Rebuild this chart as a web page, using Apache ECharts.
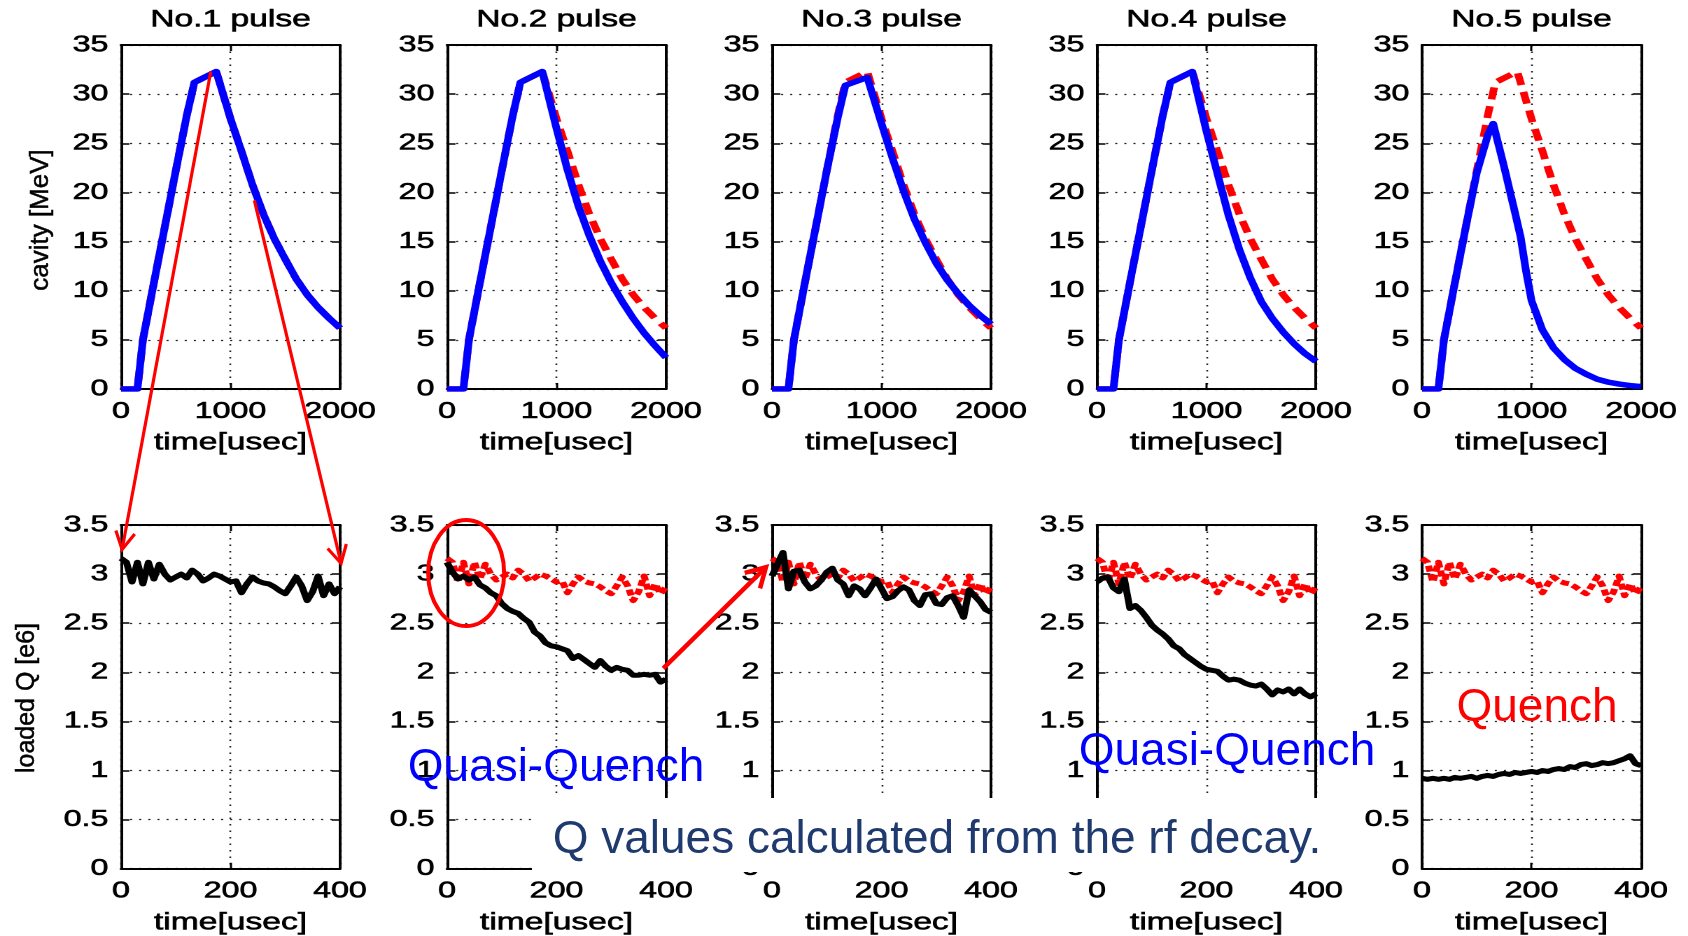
<!DOCTYPE html>
<html><head><meta charset="utf-8">
<script src="https://cdn.jsdelivr.net/npm/echarts@6/dist/echarts.min.js"></script>
<style>
html,body{margin:0;padding:0;background:#fff;overflow:hidden}
#wrap{position:relative;width:1688px;height:936px;overflow:hidden;background:#fff}
#main{position:absolute;left:0;top:0;width:1206px;height:936px;transform:scaleX(1.39967);transform-origin:0 0}
#over{position:absolute;left:0;top:0;width:1688px;height:936px;pointer-events:none}
</style></head><body>
<div id="wrap"><div id="main"></div><div id="over"></div></div>
<script>
// ---------------- data ----------------
const pulseTitles = ['No.1 pulse','No.2 pulse','No.3 pulse','No.4 pulse','No.5 pulse'];
// top row: cavity field [MeV] vs time [usec]
const tTop = [0,150,200,300,400,500,600,670,870,1000,1100,1200,1300,1400,1500,1600,1700,1800,1900,2000];
const refTop = [0,0,5.0,10.8,16.5,22.2,27.8,31.2,32.3,27.5,24.2,20.8,17.8,15.3,13.2,11.2,9.6,8.3,7.2,6.2];
const blueTop2 = [0,0,5.0,10.8,16.5,22.2,27.8,31.2,32.3,26.5,22.3,18.6,15.6,13.0,10.8,8.9,7.2,5.7,4.4,3.2];
const blueTop3 = [0,0,5.0,10.8,16.5,22.2,27.6,30.9,31.7,27.0,23.5,20.2,17.3,14.9,12.8,11.1,9.7,8.5,7.5,6.6];
const blueTop4 = [0,0,5.0,10.8,16.5,22.2,27.8,31.2,32.3,26.2,21.9,17.7,14.2,11.3,8.9,7.2,5.8,4.6,3.6,2.8];
const tTop5 = [0,150,200,300,400,500,600,650,750,850,900,950,1000,1100,1200,1300,1400,1500,1600,1700,1800,1900,2000];
const blueTop5 = [0,0,5.0,10.8,16.5,22.0,25.8,27.0,22.6,17.9,15.5,12.0,9.0,6.0,4.2,3.0,2.1,1.5,1.0,0.7,0.5,0.35,0.25];
// bottom row: loaded Q [e6] vs time [usec]
const tBot = [0,10,20,30,40,50,60,70,80,90,100,110,120,130,140,150,160,170,180,190,200,210,220,230,240,250,260,270,280,290,300,310,320,330,340,350,360,370,380,390,400];
const refBot = [3.16,3.12,2.92,3.12,2.90,3.12,2.95,3.10,3.00,2.94,2.97,3.00,2.96,3.04,3.00,2.93,2.96,3.00,2.98,2.95,2.92,2.93,2.81,2.90,2.97,2.93,2.91,2.90,2.87,2.83,2.80,2.88,2.97,2.88,2.73,2.82,2.98,2.78,2.90,2.80,2.87];
const qBot2 = [3.12,3.02,2.95,2.98,2.94,2.97,2.89,2.86,2.81,2.78,2.70,2.65,2.62,2.60,2.55,2.51,2.41,2.37,2.30,2.27,2.26,2.24,2.22,2.14,2.17,2.13,2.09,2.05,2.12,2.06,2.02,2.05,2.03,2.02,1.97,1.97,1.98,1.97,1.98,1.90,1.93];
const qBot3 = [2.98,3.10,3.22,2.85,3.03,3.04,2.92,2.85,2.88,2.94,3.02,3.06,2.94,2.90,2.78,2.88,2.85,2.78,2.86,2.95,2.85,2.75,2.77,2.83,2.87,2.84,2.73,2.68,2.79,2.80,2.70,2.69,2.76,2.78,2.68,2.56,2.84,2.78,2.72,2.64,2.61];
const qBot4 = [2.92,2.96,2.97,2.86,2.82,2.95,2.65,2.68,2.63,2.56,2.48,2.43,2.39,2.34,2.27,2.24,2.18,2.14,2.10,2.06,2.03,2.02,2.01,1.96,1.92,1.93,1.92,1.89,1.87,1.86,1.88,1.83,1.77,1.82,1.80,1.83,1.78,1.83,1.78,1.75,1.78];
const qBot5 = [0.92,0.91,0.92,0.91,0.92,0.91,0.93,0.92,0.93,0.94,0.92,0.94,0.95,0.94,0.96,0.97,0.96,0.98,0.97,0.98,0.99,0.98,1.00,0.99,1.01,1.02,1.01,1.04,1.03,1.06,1.07,1.05,1.06,1.08,1.07,1.08,1.10,1.12,1.15,1.07,1.05];

// ---------------- layout ----------------
const mainDom = document.getElementById('main');
const S = 1688 / 1206;
const colLeft = [121, 447, 772, 1097, 1422];
const plotW = 219, plotH = 344, rowTop = [45, 525];
const FF = '"Liberation Sans", Arial, Helvetica, sans-serif';
const heavy = { textBorderColor: '#000', textBorderWidth: 0.6 };

function pairs(t, v) { return t.map((x, k) => [x, v[k]]); }
const fmt = v => String(+(+v).toFixed(2));

const grids = [], xAxes = [], yAxes = [], series = [];
const firstSeries = {};
for (let r = 0; r < 2; r++) {
  for (let c = 0; c < 5; c++) {
    const gi = r * 5 + c;
    grids.push({ left: colLeft[c] / S, top: rowTop[r], width: plotW / S, height: plotH, containLabel: false });
    const xr = r === 0 ? { min: 0, max: 2000, interval: 1000 } : { min: 0, max: 400, interval: 200 };
    const yr = r === 0 ? { min: 0, max: 35, interval: 5 } : { min: 0, max: 3.5, interval: 0.5 };
    const line = { show: true, onZero: false, lineStyle: { color: '#000', width: 2 } };
    const tick = { show: true, inside: true, length: 6, lineStyle: { color: '#000', width: 1.5 } };
    const dots = { show: true, lineStyle: { color: '#222', width: 1.3, type: [1.5, 5] } };
    xAxes.push({
      gridIndex: gi, type: 'value', position: 'bottom', ...xr,
      axisLine: line, axisTick: tick,
      axisLabel: { show: true, margin: 11, color: '#000', fontSize: 23, fontFamily: FF, formatter: fmt, ...heavy },
      splitLine: dots,
      name: 'time[usec]', nameLocation: 'middle', nameGap: 42,
      nameTextStyle: { color: '#000', fontSize: 24, fontFamily: FF, ...heavy }
    });
    xAxes.push({
      gridIndex: gi, type: 'value', position: 'top', ...xr,
      axisLine: line, axisTick: tick, axisLabel: { show: false }, splitLine: { show: false },
      name: r === 0 ? pulseTitles[c] : '', nameLocation: 'middle', nameGap: 13,
      nameTextStyle: { color: '#000', fontSize: 24, fontFamily: FF, ...heavy }
    });
    yAxes.push({
      gridIndex: gi, type: 'value', position: 'left', ...yr,
      axisLine: line, axisTick: tick,
      axisLabel: { show: true, margin: 9, color: '#000', fontSize: 23, fontFamily: FF, formatter: fmt, ...heavy },
      splitLine: dots
    });
    yAxes.push({
      gridIndex: gi, type: 'value', position: 'right', ...yr,
      axisLine: line, axisTick: tick, axisLabel: { show: false }, splitLine: { show: false }
    });
  }
}

function addLine(gi, data, color, width, type) {
  if (firstSeries[gi] === undefined) firstSeries[gi] = series.length;
  series.push({
    type: 'line', xAxisIndex: 2 * gi, yAxisIndex: 2 * gi, data,
    showSymbol: false, symbol: 'none', animation: false, silent: true,
    lineStyle: { color, width, type, join: 'round' }
  });
}
// top row
const blueTop = [pairs(tTop, refTop), pairs(tTop, blueTop2), pairs(tTop, blueTop3), pairs(tTop, blueTop4), pairs(tTop5, blueTop5)];
for (let c = 0; c < 5; c++) {
  addLine(c, pairs(tTop, refTop), '#ff0000', 5.5, [12, 7]);
  addLine(c, blueTop[c], '#0000ff', 5.5, 'solid');
}
// bottom row
const qBot = [null, qBot2, qBot3, qBot4, qBot5];
addLine(5, pairs(tBot, refBot), '#000000', 5, 'solid');
for (let c = 1; c < 5; c++) {
  addLine(5 + c, pairs(tBot, refBot), '#ff0000', 5, [6, 3]);
  addLine(5 + c, pairs(tBot, qBot[c]), '#000000', 5, 'solid');
}

const main = echarts.init(mainDom, null, { devicePixelRatio: 2 });
main.setOption({
  backgroundColor: '#ffffff', animation: false,
  grid: grids, xAxis: xAxes, yAxis: yAxes, series
});

// ---------------- annotations (overlay, unscaled) ----------------
function px(gi, pt) {
  const p = main.convertToPixel({ seriesIndex: firstSeries[gi] }, pt);
  return [p[0] * S, p[1]];
}
function arrow(p0, p1, len, ang, w) {
  const a = Math.atan2(p0[1] - p1[1], p0[0] - p1[0]);
  const h1 = [p1[0] + len * Math.cos(a + ang), p1[1] + len * Math.sin(a + ang)];
  const h2 = [p1[0] + len * Math.cos(a - ang), p1[1] + len * Math.sin(a - ang)];
  return [
    { type: 'polyline', shape: { points: [p0, p1] }, style: { stroke: '#ff0000', lineWidth: w, fill: 'none' } },
    { type: 'polyline', shape: { points: [h1, p1, h2] }, style: { stroke: '#ff0000', lineWidth: w, fill: 'none', lineJoin: 'miter' } }
  ];
}
const els = [];
els.push(...arrow(px(0, [820, 32.3]), px(5, [2, 3.25]), 20, 0.5, 3.2));
els.push(...arrow(px(0, [1218, 19.2]), px(5, [402, 3.11]), 20, 0.5, 3.2));
els.push(...arrow(px(6, [395, 2.04]), px(7, [-11, 3.07]), 22, 0.52, 4.5));
const ec = px(6, [35, 3.01]);
els.push({ type: 'ellipse', shape: { cx: ec[0], cy: ec[1], rx: 38, ry: 53 }, style: { fill: 'none', stroke: '#ff0000', lineWidth: 4 } });
els.push({ type: 'rect', shape: { x: 532, y: 798, width: 808, height: 74 }, style: { fill: '#ffffff' } });
function txt(s, x, y, size, color, rot, extra) {
  return { type: 'text', x, y, rotation: rot || 0,
    style: Object.assign({ text: s, fontSize: size, fontFamily: FF, fill: color, align: 'center', verticalAlign: 'middle' }, extra || {}) };
}
els.push(txt('Q values calculated from the rf decay.', 937, 840, 46, '#1f3a6e'));
els.push(txt('Quasi-Quench', 556, 768, 46, '#0000ff'));
els.push(txt('Quasi-Quench', 1227, 752, 46, '#0000ff'));
els.push(txt('Quench', 1537, 708, 46, '#ff0000'));
els.push(txt('cavity [MeV]', 41, 220, 26, '#000', Math.PI / 2, { stroke: '#000', lineWidth: 0.5 }));
els.push(txt('loaded Q [e6]', 27, 698, 25, '#000', Math.PI / 2, { stroke: '#000', lineWidth: 0.5 }));

const over = echarts.init(document.getElementById('over'), null, { devicePixelRatio: 1 });
over.setOption({ backgroundColor: 'transparent', animation: false, graphic: { elements: els } });
</script>
</body></html>
